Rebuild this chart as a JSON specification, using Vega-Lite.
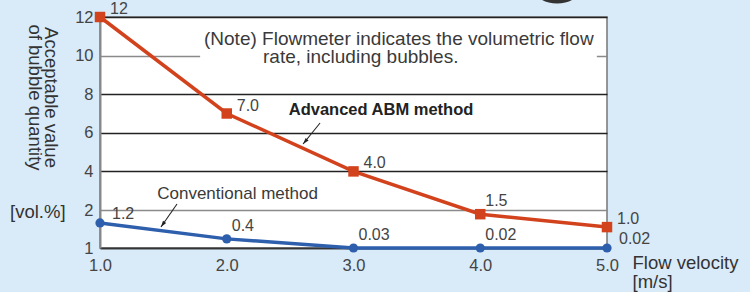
{
  "$schema": "https://vega.github.io/schema/vega-lite/v6.json",
  "width": 507,
  "height": 231,
  "autosize": {"type": "none"},
  "padding": {"left": 100, "top": 17, "right": 143, "bottom": 44},
  "background": "#d9eaf8",
  "config": {
    "font": "Liberation Sans",
    "view": {"fill": "white", "stroke": "#777", "strokeWidth": 1.5},
    "text": {"font": "Liberation Sans", "color": "#3a3a3a"}
  },
  "datasets": {
    "series": [
      {"method": "Advanced ABM method", "velocity": 1, "value": 12, "label": "12"},
      {"method": "Advanced ABM method", "velocity": 2, "value": 7.0, "label": "7.0"},
      {"method": "Advanced ABM method", "velocity": 3, "value": 4.0, "label": "4.0"},
      {"method": "Advanced ABM method", "velocity": 4, "value": 1.89, "label": "1.5"},
      {"method": "Advanced ABM method", "velocity": 5, "value": 1.55, "label": "1.0"},
      {"method": "Conventional method", "velocity": 1, "value": 1.66, "label": "1.2"},
      {"method": "Conventional method", "velocity": 2, "value": 1.24, "label": "0.4"},
      {"method": "Conventional method", "velocity": 3, "value": 1.0, "label": "0.03"},
      {"method": "Conventional method", "velocity": 4, "value": 1.0, "label": "0.02"},
      {"method": "Conventional method", "velocity": 5, "value": 1.0, "label": "0.02"}
    ],
    "texts": [
      {"kind": "note", "velocity": 1.8205, "value": 10.549, "text": "(Note) Flowmeter indicates the volumetric flow"},
      {"kind": "note", "velocity": 2.286, "value": 9.617, "text": "rate, including bubbles."},
      {"kind": "abm", "velocity": 3.217, "value": 7.181, "text": "Advanced ABM method"},
      {"kind": "conv", "velocity": 2.085, "value": 2.829, "text": "Conventional method"},
      {"kind": "unit", "velocity": 0.29, "value": 1.947, "text": "[vol.%]"}
    ],
    "arrows": [
      {"arrow": "abm", "velocity": 2.736, "value": 6.508, "velocity2": 2.602, "value2": 5.42},
      {"arrow": "conv", "velocity": 1.6075, "value": 2.311, "velocity2": 1.481, "value2": 1.553}
    ],
    "heads": [
      {"arrow": "abm", "velocity": 2.602, "value": 5.42},
      {"arrow": "conv", "velocity": 1.481, "value": 1.553}
    ],
    "box": [
      {"velocity": 1.79, "value": 11.3, "velocity2": 4.92, "value2": 9.2}
    ],
    "blob": [
      {"velocity": 4.606, "value": 13.3}
    ]
  },
  "encoding": {
    "x": {
      "field": "velocity",
      "type": "quantitative",
      "scale": {"domain": [1, 5], "nice": false, "zero": false},
      "axis": {
        "values": [1, 2, 3, 4, 5],
        "format": ".1f",
        "labelFontSize": 16.5,
        "labelColor": "#444",
        "labelFont": "Liberation Sans",
        "labelFlush": false,
        "labelOverlap": false,
        "ticks": false,
        "labelPadding": 9,
        "domainColor": "#333",
        "domainWidth": 1.5,
        "grid": false,
        "title": ["Flow velocity", "[m/s]"],
        "titleFont": "Liberation Sans",
        "titleFontSize": 18.5,
        "titleFontWeight": "normal",
        "titleColor": "#333",
        "titleAlign": "left",
        "titleBaseline": "alphabetic",
        "titleX": 532,
        "titleY": 20,
        "titleLineHeight": 19
      }
    },
    "y": {
      "field": "value",
      "type": "quantitative",
      "scale": {"domain": [1, 2, 12], "range": [231, 193, 0], "nice": false, "zero": false},
      "axis": {
        "values": [1, 2, 4, 6, 8, 10, 12],
        "format": "d",
        "labelFontSize": 16.5,
        "labelColor": "#444",
        "labelFont": "Liberation Sans",
        "labelOverlap": false,
        "ticks": false,
        "labelPadding": 7,
        "domainColor": "#888",
        "domainWidth": 2,
        "grid": true,
        "gridWidth": 1.3,
        "gridColor": {"condition": {"test": "datum.value == 10 || datum.value == 2", "value": "#8a8a8a"}, "value": "#222"},
        "title": ["Acceptable value", "of bubble quantity"],
        "titleFont": "Liberation Sans",
        "titleFontSize": 18.5,
        "titleFontWeight": "normal",
        "titleColor": "#333",
        "titleAngle": 90,
        "titleAlign": "center",
        "titleBaseline": "alphabetic",
        "titleX": -56,
        "titleY": 80,
        "titleLineHeight": 16
      }
    }
  },
  "layer": [
    {
      "data": {"name": "box"},
      "mark": {"type": "rect", "fill": "white"},
      "encoding": {"x2": {"field": "velocity2"}, "y2": {"field": "value2"}}
    },
    {
      "data": {"name": "series"},
      "mark": {"type": "line", "strokeWidth": 3.5},
      "encoding": {
        "color": {"field": "method", "type": "nominal", "scale": {"domain": ["Advanced ABM method", "Conventional method"], "range": ["#d2431d", "#2e5fad"]}, "legend": null}
      }
    },
    {
      "data": {"name": "series"},
      "mark": {"type": "point", "filled": true, "opacity": 1},
      "encoding": {
        "color": {"field": "method", "type": "nominal", "scale": {"domain": ["Advanced ABM method", "Conventional method"], "range": ["#d2431d", "#2e5fad"]}, "legend": null},
        "shape": {"field": "method", "type": "nominal", "scale": {"domain": ["Advanced ABM method", "Conventional method"], "range": ["square", "circle"]}, "legend": null},
        "size": {"field": "method", "type": "nominal", "scale": {"domain": ["Advanced ABM method", "Conventional method"], "range": [110, 85]}, "legend": null}
      }
    },
    {
      "data": {"name": "series"},
      "transform": [{"filter": "datum.method == 'Advanced ABM method' && datum.velocity != 4"}],
      "mark": {"type": "text", "align": "left", "baseline": "middle", "dx": 10, "dy": -8, "fontSize": 16, "color": "#444"},
      "encoding": {"text": {"field": "label"}}
    },
    {
      "data": {"name": "series"},
      "transform": [{"filter": "datum.method == 'Advanced ABM method' && datum.velocity == 4"}],
      "mark": {"type": "text", "align": "left", "baseline": "middle", "dx": 5, "dy": -13, "fontSize": 16, "color": "#444"},
      "encoding": {"text": {"field": "label"}}
    },
    {
      "data": {"name": "series"},
      "transform": [{"filter": "datum.method == 'Conventional method' && (datum.velocity == 1 || datum.velocity == 5)"}],
      "mark": {"type": "text", "align": "left", "baseline": "middle", "dx": 12, "dy": -9, "fontSize": 16, "color": "#444"},
      "encoding": {"text": {"field": "label"}}
    },
    {
      "data": {"name": "series"},
      "transform": [{"filter": "datum.method == 'Conventional method' && datum.velocity > 1 && datum.velocity < 5"}],
      "mark": {"type": "text", "align": "left", "baseline": "middle", "dx": 5, "dy": -13, "fontSize": 16, "color": "#444"},
      "encoding": {"text": {"field": "label"}}
    },
    {
      "data": {"name": "texts"},
      "transform": [{"filter": "datum.kind == 'note'"}],
      "mark": {"type": "text", "align": "left", "baseline": "alphabetic", "fontSize": 19, "color": "#3a3a3a"},
      "encoding": {"text": {"field": "text"}}
    },
    {
      "data": {"name": "texts"},
      "transform": [{"filter": "datum.kind == 'abm'"}],
      "mark": {"type": "text", "align": "center", "baseline": "middle", "fontSize": 16.5, "fontWeight": "bold", "color": "#222"},
      "encoding": {"text": {"field": "text"}}
    },
    {
      "data": {"name": "texts"},
      "transform": [{"filter": "datum.kind == 'conv'"}],
      "mark": {"type": "text", "align": "center", "baseline": "middle", "fontSize": 17, "color": "#3a3a3a"},
      "encoding": {"text": {"field": "text"}}
    },
    {
      "data": {"name": "texts"},
      "transform": [{"filter": "datum.kind == 'unit'"}],
      "mark": {"type": "text", "align": "left", "baseline": "middle", "fontSize": 18.5, "color": "#333"},
      "encoding": {"text": {"field": "text"}}
    },
    {
      "data": {"name": "arrows"},
      "mark": {"type": "rule", "color": "#222", "strokeWidth": 1.1},
      "encoding": {"x2": {"field": "velocity2"}, "y2": {"field": "value2"}}
    },
    {
      "data": {"name": "heads"},
      "transform": [{"filter": "datum.arrow == 'abm'"}],
      "mark": {"type": "point", "filled": true, "opacity": 1, "color": "#222", "shape": "M0,0L0.55,1.8L-0.55,1.8Z", "size": 49, "angle": 220},
      "encoding": {}
    },
    {
      "data": {"name": "heads"},
      "transform": [{"filter": "datum.arrow == 'conv'"}],
      "mark": {"type": "point", "filled": true, "opacity": 1, "color": "#222", "shape": "M0,0L0.55,1.8L-0.55,1.8Z", "size": 49, "angle": 215},
      "encoding": {}
    },
    {
      "data": {"name": "blob"},
      "mark": {"type": "point", "filled": true, "opacity": 1, "color": "#333", "shape": "M-1,0A1,0.55 0 1,0 1,0A1,0.55 0 1,0 -1,0Z", "size": 1760},
      "encoding": {}
    }
  ]
}
